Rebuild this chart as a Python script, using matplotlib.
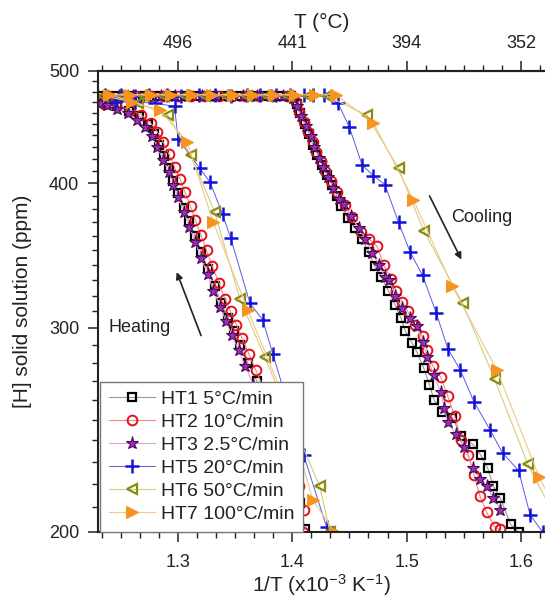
import matplotlib
matplotlib.use("Agg")
import matplotlib.pyplot as plt
from matplotlib.ticker import MultipleLocator, NullFormatter

plt.rcParams['font.family'] = ['Liberation Sans', 'DejaVu Sans']
plt.rcParams['mathtext.default'] = 'regular'

# ---- data: x = 1/T (1e-3 K^-1), y = [H] (ppm) ----
# each run: heating branch (bottom -> top), plateau, cooling branch
ht1_x = [1.411, 1.407, 1.401, 1.393, 1.385, 1.377, 1.369, 1.361, 1.354, 1.349, 1.344, 1.338, 1.332,
         1.326, 1.320, 1.315, 1.310, 1.305, 1.300, 1.296, 1.292, 1.288, 1.283, 1.279, 1.274, 1.266,
         1.257, 1.247, 1.237,
         1.233, 1.245, 1.258, 1.269, 1.282, 1.293, 1.306, 1.317, 1.330, 1.341, 1.354, 1.365, 1.378,
         1.389, 1.399,
         1.404, 1.407, 1.411, 1.415, 1.418, 1.422, 1.426, 1.430, 1.435, 1.439, 1.443, 1.449, 1.455,
         1.461, 1.467, 1.472, 1.478, 1.484, 1.490, 1.495, 1.499, 1.505, 1.509, 1.515, 1.520, 1.524,
         1.531, 1.540, 1.548, 1.558, 1.565, 1.571, 1.576, 1.582, 1.591, 1.598]
ht1_y = [201, 212, 224, 237, 249, 260, 270, 280, 290, 298, 306, 315, 326,
         337, 349, 360, 371, 381, 392, 402, 412, 422, 432, 441, 450, 457,
         462, 466, 469,
         476, 476, 476, 476, 476, 476, 476, 476, 476, 476, 476, 476, 476,
         476, 476,
         468, 460, 450, 441, 432, 423, 415, 407, 399, 390, 382, 373, 366,
         358, 349, 339, 332, 323, 314, 306, 298, 291, 286, 277, 268, 260,
         254, 251, 242, 238, 233, 227, 219, 214, 203, 200]

ht2_x = [1.409, 1.410, 1.406, 1.399, 1.391, 1.383, 1.375, 1.368, 1.362, 1.356, 1.351, 1.346, 1.341,
         1.336, 1.330, 1.325, 1.320, 1.315, 1.311, 1.306, 1.302, 1.297, 1.292, 1.287, 1.282, 1.276,
         1.268, 1.258, 1.246, 1.235,
         1.239, 1.251, 1.263, 1.276, 1.287, 1.300, 1.311, 1.323, 1.336, 1.347, 1.359, 1.371, 1.383,
         1.395,
         1.403, 1.406, 1.410, 1.414, 1.418, 1.421, 1.425, 1.429, 1.434, 1.439, 1.446, 1.452, 1.460,
         1.467, 1.474, 1.480, 1.486, 1.491, 1.496, 1.501, 1.507, 1.514, 1.518, 1.523, 1.530, 1.536,
         1.542, 1.548, 1.554, 1.559, 1.564, 1.570, 1.577, 1.582]
ht2_y = [200, 209, 219, 230, 243, 255, 266, 276, 285, 294, 302, 310, 318,
         328, 339, 350, 361, 372, 382, 393, 403, 413, 424, 434, 443, 451,
         458, 463, 467, 468,
         476, 476, 476, 476, 476, 476, 476, 476, 476, 476, 476, 476, 476,
         476,
         470, 461, 452, 443, 434, 426, 418, 410, 402, 393, 383, 374, 363,
         358, 353, 340, 331, 323, 316, 310, 302, 295, 287, 278, 272, 262,
         252, 240, 233, 224, 215, 208, 202, 201]

ht3_x = [1.404, 1.398, 1.391, 1.382, 1.374, 1.366, 1.359, 1.353, 1.347, 1.342, 1.337, 1.331, 1.326,
         1.320, 1.315, 1.310, 1.305, 1.300, 1.296, 1.292, 1.287, 1.282, 1.277, 1.271, 1.264, 1.256,
         1.247, 1.238, 1.232,
         1.236, 1.248, 1.261, 1.273, 1.285, 1.297, 1.309, 1.321, 1.333, 1.345, 1.357, 1.369, 1.381,
         1.392,
         1.401, 1.404, 1.408, 1.412, 1.416, 1.419, 1.423, 1.427, 1.431, 1.436, 1.441, 1.445, 1.451,
         1.458, 1.464, 1.470, 1.476, 1.481, 1.485, 1.490, 1.496, 1.503, 1.509, 1.514, 1.518, 1.524,
         1.530, 1.533, 1.536, 1.543, 1.550, 1.558, 1.564, 1.570, 1.576, 1.582]
ht3_y = [208, 219, 231, 245, 257, 268, 278, 287, 296, 304, 313, 323, 334,
         345, 356, 367, 378, 389, 399, 409, 419, 430, 439, 447, 454, 460,
         464, 467, 469,
         476, 476, 476, 476, 476, 476, 476, 476, 476, 476, 476, 476, 476,
         476,
         474, 466, 457, 448, 439, 430, 421, 413, 405, 396, 388, 384, 375,
         366, 358, 348, 340, 332, 330, 320, 312, 306, 301, 292, 283, 273,
         264, 256, 249, 243, 237, 227, 222, 219, 214, 209]

ht5_x = [1.430, 1.410, 1.402, 1.394, 1.383, 1.374, 1.363, 1.346, 1.339, 1.328, 1.319, 1.300, 1.297,
         1.280, 1.262, 1.245,
         1.236, 1.250, 1.262, 1.275, 1.290, 1.303, 1.318, 1.332, 1.346, 1.360, 1.372, 1.386, 1.398,
         1.410, 1.418, 1.428,
         1.440, 1.450, 1.461, 1.471, 1.481, 1.493, 1.503, 1.514, 1.526, 1.536, 1.547, 1.559, 1.573,
         1.584, 1.598, 1.608, 1.619]
ht5_y = [202, 233, 247, 262, 285, 305, 315, 359, 376, 401, 412, 437, 466,
         469, 470, 470,
         477, 477, 476, 477, 477, 476, 477, 477, 476, 477, 477, 477, 477,
         477, 477, 477,
         469, 447, 415, 406, 399, 370, 349, 333, 309, 288, 276, 259, 245,
         234, 226, 207, 200]

ht6_x = [1.433, 1.424, 1.399, 1.376, 1.354, 1.332, 1.311, 1.291, 1.265,
         1.234, 1.252, 1.270, 1.288, 1.306, 1.324, 1.342, 1.360, 1.378, 1.396, 1.414, 1.430,
         1.465, 1.493, 1.515, 1.549, 1.577, 1.606, 1.630]
ht6_y = [200, 219, 250, 283, 318, 378, 423, 458, 469,
         476, 476, 476, 476, 476, 476, 476, 476, 476, 476, 476, 476,
         458, 412, 364, 315, 271, 229, 206]

ht7_x = [1.437, 1.418, 1.392, 1.361, 1.331, 1.308, 1.284, 1.260,
         1.240, 1.258, 1.276, 1.294, 1.312, 1.330, 1.348, 1.366, 1.384, 1.402, 1.420, 1.438,
         1.471, 1.506, 1.540, 1.579, 1.616, 1.634]
ht7_y = [200, 213, 262, 311, 370, 434, 463, 470,
         477, 477, 477, 477, 477, 477, 477, 477, 477, 477, 477, 477,
         451, 387, 326, 276, 223, 206]

labels = ['HT1 5°C/min', 'HT2 10°C/min', 'HT3 2.5°C/min',
          'HT5 20°C/min', 'HT6 50°C/min', 'HT7 100°C/min']

x_ticks = [1.3, 1.4, 1.5, 1.6]
x_ticklabels = ['1.3', '1.4', '1.5', '1.6']
top_ticklabels = ['496', '441', '394', '352']   # T (°C) at the same 1/T positions
y_ticks = [200, 300, 400, 500]

fig = plt.figure(figsize=(5.45, 5.97), dpi=100)
ax = fig.add_axes([0.1798, 0.1089, 0.8202, 0.7722])

ax.plot(ht1_x, ht1_y, '-', color='#9a9a9a', lw=0.8, marker='s', ms=5.5, mfc='none',
        mec='black', mew=1.6, label=labels[0])
ax.plot(ht2_x, ht2_y, '-', color='#f08a8a', lw=0.8, marker='o', ms=7, mfc='none',
        mec='#e3121b', mew=1.4, label=labels[1])
ax.plot(ht3_x, ht3_y, '-', color='#d9a6d9', lw=0.8, marker='*', ms=9.5, mfc='#9b2fb5',
        mec='#4a0a55', mew=0.8, label=labels[2])
ax.plot(ht5_x, ht5_y, '-', color='#5a5ae6', lw=0.7, marker='+', ms=9.5, mec='#1414d8',
        mew=1.8, label=labels[3])
ax.plot(ht6_x, ht6_y, '-', color='#cfcf7a', lw=0.8, marker='<', ms=7.5, mfc='none',
        mec='#8b8b12', mew=1.6, label=labels[4])
ax.plot(ht7_x, ht7_y, '-', color='#f2c68a', lw=0.8, marker='>', ms=8.5, mfc='#f7941d',
        mec='#f7941d', mew=0.8, label=labels[5])

ax.set_yscale('log')
ax.set_xlim(1.23, 1.6211)
ax.set_ylim(200, 500)

ax.set_xticks(x_ticks, labels=x_ticklabels)
ax.xaxis.set_minor_locator(MultipleLocator(0.1 / 6))
ax.set_yticks(y_ticks, labels=[str(v) for v in y_ticks])
ax.yaxis.set_minor_locator(MultipleLocator(10))
ax.yaxis.set_minor_formatter(NullFormatter())

ax.tick_params(which='major', direction='out', length=7.5, width=1.1, labelsize=13,
               colors='#222222', pad=6)
ax.tick_params(axis='x', which='major', pad=8)
ax.tick_params(which='minor', direction='out', length=4, width=1.0, colors='#222222')
ax.spines['right'].set_visible(False)
for s in ['left', 'bottom', 'top']:
    ax.spines[s].set_linewidth(1.5)
    ax.spines[s].set_color('#222222')

top = ax.secondary_xaxis('top')
top.set_xticks(x_ticks, labels=top_ticklabels)
top.xaxis.set_minor_locator(MultipleLocator(0.1 / 6))
top.tick_params(which='major', direction='out', length=7.5, width=1.1, labelsize=13,
                colors='#222222', pad=6)
top.tick_params(which='minor', direction='out', length=4, width=1.0, colors='#222222')
top.spines['top'].set_linewidth(1.5)
top.set_xlabel('T (°C)', fontsize=15, color='#222222', labelpad=5)

ax.set_xlabel('1/T (x10$^{-3}$ K$^{-1}$)', fontsize=15, color='#222222', labelpad=1)
ax.set_ylabel('[H] solid solution (ppm)', fontsize=15, color='#222222', labelpad=12)

# annotations
ax.text(1.266, 300, 'Heating', fontsize=13, color='#222222', ha='center', va='center')
ax.annotate('', xy=(1.298, 337), xytext=(1.321, 294),
            arrowprops=dict(arrowstyle='-|>', lw=1.2, color='#222222', mutation_scale=10))
ax.text(1.566, 374, 'Cooling', fontsize=13, color='#222222', ha='center', va='center')
ax.annotate('', xy=(1.549, 342), xytext=(1.519, 392),
            arrowprops=dict(arrowstyle='-|>', lw=1.2, color='#222222', mutation_scale=10))

leg = ax.legend(loc='lower left', bbox_to_anchor=(0.004, 0.0), fontsize=14, frameon=True,
                fancybox=False, framealpha=1, edgecolor='#777777', borderaxespad=0,
                handlelength=2.4, handletextpad=0.3, labelspacing=0.28, borderpad=0.45)
leg.get_frame().set_linewidth(1.0)
for t in leg.get_texts():
    t.set_color('#222222')

fig.savefig('out.png', dpi=100)
